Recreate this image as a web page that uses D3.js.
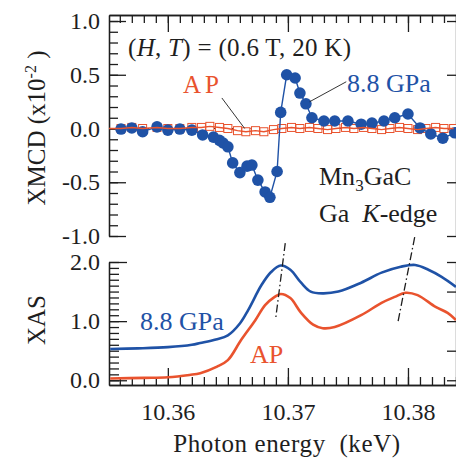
<!DOCTYPE html>
<html>
<head>
<meta charset="utf-8">
<script src="https://cdn.jsdelivr.net/npm/d3@7"></script>
<style>
  body { margin: 0; background: #fff; }
  svg { display: block; font-family: "Liberation Serif", serif; }
</style>
</head>
<body>
<div id="wrapper"></div>
<script>
// XMCD, 8.8 GPa (filled circles)
const energy88 = [10.3561, 10.3570, 10.3579, 10.3591, 10.3600, 10.3610, 10.3620, 10.3629, 10.3638, 10.3643,
  10.3646, 10.3650, 10.3654, 10.3660, 10.3666, 10.3670, 10.3675, 10.3681, 10.3685, 10.3691,
  10.3694, 10.3699, 10.3706, 10.3710, 10.3715, 10.3720, 10.3730, 10.3739, 10.3750, 10.3761,
  10.3770, 10.3780, 10.3789, 10.3800, 10.3810, 10.3819, 10.3829, 10.3839]
const xmcd88 = [-0.005, 0.005, -0.03, 0.015, -0.015, -0.005, -0.015, -0.06, -0.08, -0.11,
  -0.135, -0.17, -0.32, -0.41, -0.35, -0.34, -0.48, -0.59, -0.64, -0.40,
  0.15, 0.50, 0.47, 0.33, 0.23, 0.10, 0.07, 0.07, 0.07, 0.04,
  0.05, 0.07, 0.10, 0.135, 0.005, -0.05, -0.09, -0.04]

// XMCD, ambient pressure (open squares)
const energyAP = [10.3561, 10.3570, 10.3579, 10.3591, 10.3600, 10.3610, 10.3620, 10.3628, 10.3635,
  10.3643, 10.3650, 10.3658, 10.3665, 10.3673, 10.3680, 10.3688, 10.3695, 10.3703, 10.3710,
  10.3718, 10.3725, 10.3733, 10.3740, 10.3748, 10.3755, 10.3763, 10.3770, 10.3778, 10.3785,
  10.3793, 10.3800, 10.3808, 10.3815, 10.3823, 10.3830, 10.3838]
const xmcdAP = [0.00, 0.01, 0.00, 0.01, 0.00, 0.00, 0.01, 0.01, 0.02,
  0.01, 0.00, -0.02, -0.03, -0.02, -0.03, -0.01, 0.00, 0.01, 0.00,
  0.01, 0.00, -0.01, 0.00, 0.01, 0.00, 0.01, 0.00, -0.01, 0.00,
  0.01, 0.00, -0.01, 0.00, 0.01, 0.00, 0.00]

// XAS curves
const energyXas88 = [10.3552, 10.3575, 10.3600, 10.3620, 10.3627, 10.3640, 10.3650, 10.3660, 10.3667, 10.3678,
  10.3686, 10.3694, 10.3702, 10.3711, 10.3719, 10.3729, 10.3742, 10.3761, 10.3778, 10.3794,
  10.3806, 10.3817, 10.3828, 10.3840]
const xas88 = [0.53, 0.54, 0.56, 0.60, 0.63, 0.69, 0.76, 0.96, 1.19, 1.61,
  1.83, 1.94, 1.87, 1.65, 1.50, 1.47, 1.50, 1.65, 1.82, 1.92,
  1.95, 1.87, 1.75, 1.58]
const energyXasAP = [10.3552, 10.3580, 10.3600, 10.3618, 10.3627, 10.3641, 10.3650, 10.3661, 10.3673, 10.3681,
  10.3689, 10.3694, 10.3702, 10.3711, 10.3721, 10.3729, 10.3739, 10.3761, 10.3778, 10.3789,
  10.3798, 10.3808, 10.3823, 10.3833, 10.3840]
const xasAP = [0.03, 0.04, 0.05, 0.09, 0.12, 0.23, 0.34, 0.68, 1.02, 1.27,
  1.41, 1.46, 1.39, 1.14, 0.94, 0.88, 0.90, 1.10, 1.31, 1.41,
  1.48, 1.44, 1.24, 1.14, 1.02]

// dash-dot guide lines through the peaks (energy, XAS)
const peakGuide1 = [[10.36978, 2.32], [10.36898, 1.04]]
const peakGuide2 = [[10.38056, 2.42], [10.37917, 0.99]]

const xMajorTicks = [10.36, 10.37, 10.38]
const xmcdTicks = [-1.0, -0.5, 0.0, 0.5, 1.0]
const xasTicks = [0.0, 1.0, 2.0]
const xasRightTicks = [0.0, 0.5, 1.0, 1.5, 2.0]

const blue = "#1f52a6"
const red = "#e9532e"
const ink = "#1e1e1e"

const width = 456
const height = 460

const svg = d3.select("#wrapper")
  .append("svg")
    .attr("width", width)
    .attr("height", height)

const xScale = d3.scaleLinear()
  .domain([10.3551, 10.3840])
  .range([109, 456])

const yTop = d3.scaleLinear()
  .domain([-1, 1.056])
  .range([236, 15])

const yBot = d3.scaleLinear()
  .domain([-0.08, 2.0])
  .range([385, 262])

const xMinor = d3.range(356, 385).map(i => 10 + i / 1000)
const yTopMinor = d3.range(-10, 11).map(i => i / 10)
const yBotMinor = d3.range(0, 21).map(i => i / 10)
const fmt = d => d.toFixed(1)
const fmtX = d => d.toFixed(2)

// helper to style axis groups
function styleAxis(g) {
  g.attr("font-family", null).attr("font-size", null)
  g.selectAll("path, line").attr("stroke", ink).attr("stroke-width", 1.3)
  g.selectAll("text").attr("fill", ink).style("font-size", "24px")
}

// ---------- top panel axes ----------
svg.append("g").attr("transform", "translate(109,0)")
  .call(d3.axisLeft(yTop).tickValues(yTopMinor).tickSizeInner(-9).tickSizeOuter(0).tickFormat(""))
  .call(styleAxis)
svg.append("g").attr("transform", "translate(109,0)")
  .call(d3.axisLeft(yTop).tickValues(xmcdTicks).tickSizeInner(-17).tickSizeOuter(0).tickPadding(9).tickFormat(fmt))
  .call(styleAxis)
svg.append("g").attr("transform", "translate(0,15)")
  .call(d3.axisTop(xScale).tickValues(xMinor).tickSizeInner(-8).tickSizeOuter(0).tickFormat(""))
  .call(styleAxis)
svg.append("g").attr("transform", "translate(0,15)")
  .call(d3.axisTop(xScale).tickValues(xMajorTicks).tickSizeInner(-17).tickSizeOuter(0).tickFormat(""))
  .call(styleAxis)
svg.append("g").attr("transform", "translate(456,0)")
  .call(d3.axisRight(yTop).tickValues(xmcdTicks).tickSizeInner(-9).tickSizeOuter(0).tickFormat(""))
  .call(styleAxis)

// ---------- bottom panel axes ----------
svg.append("g").attr("transform", "translate(109,0)")
  .call(d3.axisLeft(yBot).tickValues(yBotMinor).tickSizeInner(-10).tickSizeOuter(0).tickFormat(""))
  .call(styleAxis)
svg.append("g").attr("transform", "translate(109,0)")
  .call(d3.axisLeft(yBot).tickValues(xasTicks).tickSizeInner(-18).tickSizeOuter(0).tickPadding(9).tickFormat(fmt))
  .call(styleAxis)
svg.append("g").attr("transform", "translate(456,0)")
  .call(d3.axisRight(yBot).tickValues(xasRightTicks).tickSizeInner(-9).tickSizeOuter(0).tickFormat(""))
  .call(styleAxis)
svg.append("g").attr("transform", "translate(0,385)")
  .call(d3.axisBottom(xScale).tickValues(xMinor).tickSizeInner(-8).tickSizeOuter(0).tickFormat(""))
  .call(styleAxis)
svg.append("g").attr("transform", "translate(0,385)")
  .call(d3.axisBottom(xScale).tickValues(xMajorTicks).tickSizeInner(-17).tickSizeOuter(0).tickPadding(18).tickFormat(fmtX))
  .call(styleAxis)

// ---------- XMCD data ----------
const xmcdData88 = energy88.map((e, i) => ({ e, v: xmcd88[i] }))
const xmcdDataAP = energyAP.map((e, i) => ({ e, v: xmcdAP[i] }))

// zero reference (dotted)
svg.append("line")
  .attr("x1", xScale.range()[0]).attr("x2", xScale.range()[1])
  .attr("y1", yTop(0)).attr("y2", yTop(0))
  .attr("stroke", ink).attr("stroke-width", 1).attr("stroke-dasharray", "1.5,2")

const lineTop = d3.line()
  .x(d => xScale(d.e))
  .y(d => yTop(d.v))

// AP squares under the circles
svg.append("g").selectAll("rect")
  .data(xmcdDataAP)
  .join("rect")
    .attr("x", d => xScale(d.e) - 4)
    .attr("y", d => yTop(d.v) - 4)
    .attr("width", 8)
    .attr("height", 8)
    .attr("fill", "#fff")
    .attr("stroke", red)
    .attr("stroke-width", 1)

svg.append("path")
  .attr("d", lineTop(xmcdData88))
  .attr("fill", "none")
  .attr("stroke", blue)
  .attr("stroke-width", 1.4)

svg.append("g").selectAll("circle")
  .data(xmcdData88)
  .join("circle")
    .attr("cx", d => xScale(d.e))
    .attr("cy", d => yTop(d.v))
    .attr("r", 5.8)
    .attr("fill", blue)

// AP line runs from the left axis through its points
svg.append("path")
  .attr("d", lineTop([{ e: xScale.domain()[0], v: xmcdAP[0] }, ...xmcdDataAP]))
  .attr("fill", "none")
  .attr("stroke", red)
  .attr("stroke-width", 1.4)

// leader lines
svg.append("line")
  .attr("x1", xScale(10.3645)).attr("y1", yTop(0.284))
  .attr("x2", xScale(10.3664)).attr("y2", yTop(0.0))
  .attr("stroke", ink).attr("stroke-width", 0.9)
svg.append("line")
  .attr("x1", xScale(10.37486)).attr("y1", yTop(0.435))
  .attr("x2", xScale(10.37181)).attr("y2", yTop(0.249))
  .attr("stroke", ink).attr("stroke-width", 0.9)

// ---------- XAS data ----------
const lineBot = d3.line()
  .x(d => xScale(d.e))
  .y(d => yBot(d.v))
  .curve(d3.curveCatmullRom.alpha(0.5))

svg.append("path")
  .attr("d", lineBot(energyXas88.map((e, i) => ({ e, v: xas88[i] }))))
  .attr("fill", "none")
  .attr("stroke", blue)
  .attr("stroke-width", 2.6)

svg.append("path")
  .attr("d", lineBot(energyXasAP.map((e, i) => ({ e, v: xasAP[i] }))))
  .attr("fill", "none")
  .attr("stroke", red)
  .attr("stroke-width", 2.6)

;[peakGuide1, peakGuide2].forEach(g => {
  svg.append("line")
    .attr("x1", xScale(g[0][0])).attr("y1", yBot(g[0][1]))
    .attr("x2", xScale(g[1][0])).attr("y2", yBot(g[1][1]))
    .attr("stroke", ink).attr("stroke-width", 1.3)
    .attr("stroke-dasharray", "8,3,1.5,3")
})

// ---------- texts ----------
const txt = (x, y, s, color, size) => svg.append("text")
  .attr("x", x).attr("y", y)
  .attr("fill", color || ink)
  .style("font-size", (size || 24) + "px")
  .text(s)

const ht = txt(128, 56, "", ink, 25).style("letter-spacing", "0.3px")
ht.append("tspan").text("(")
ht.append("tspan").style("font-style", "italic").text("H")
ht.append("tspan").text(", ")
ht.append("tspan").style("font-style", "italic").text("T")
ht.append("tspan").text(") = (0.6 T, 20 K)")

txt(183, 93, "AP", red, 25).style("letter-spacing", "4px")
txt(347, 92, "8.8 GPa", blue, 26)

const mn = txt(319, 185, "Mn", ink, 26)
mn.append("tspan").attr("dy", 6).style("font-size", "17px").text("3")
mn.append("tspan").attr("dy", -6).text("GaC")

const ga = txt(319, 222, "Ga  ", ink, 26).style("white-space", "pre")
ga.append("tspan").style("font-style", "italic").text("K")
ga.append("tspan").text("-edge")

txt(140, 330, "8.8 GPa", blue, 26)
txt(250, 363, "AP", red, 26)

// axis titles
const yt = svg.append("text")
  .attr("transform", "translate(45,128) rotate(-90)")
  .attr("text-anchor", "middle")
  .attr("fill", ink)
  .style("font-size", "25px")
  .style("white-space", "pre")
  .text("XMCD (x10")
yt.append("tspan").attr("dy", -9).style("font-size", "16px").text("-2")
yt.append("tspan").attr("dy", 9).text(" )")

svg.append("text")
  .attr("transform", "translate(45,320) rotate(-90)")
  .attr("text-anchor", "middle")
  .attr("fill", ink)
  .style("font-size", "25px")
  .text("XAS")

svg.append("text")
  .attr("x", 287).attr("y", 452)
  .attr("text-anchor", "middle")
  .attr("fill", ink)
  .style("font-size", "25px")
  .style("white-space", "pre")
  .style("letter-spacing", "0.6px")
  .text("Photon energy  (keV)")
</script>
</body>
</html>
